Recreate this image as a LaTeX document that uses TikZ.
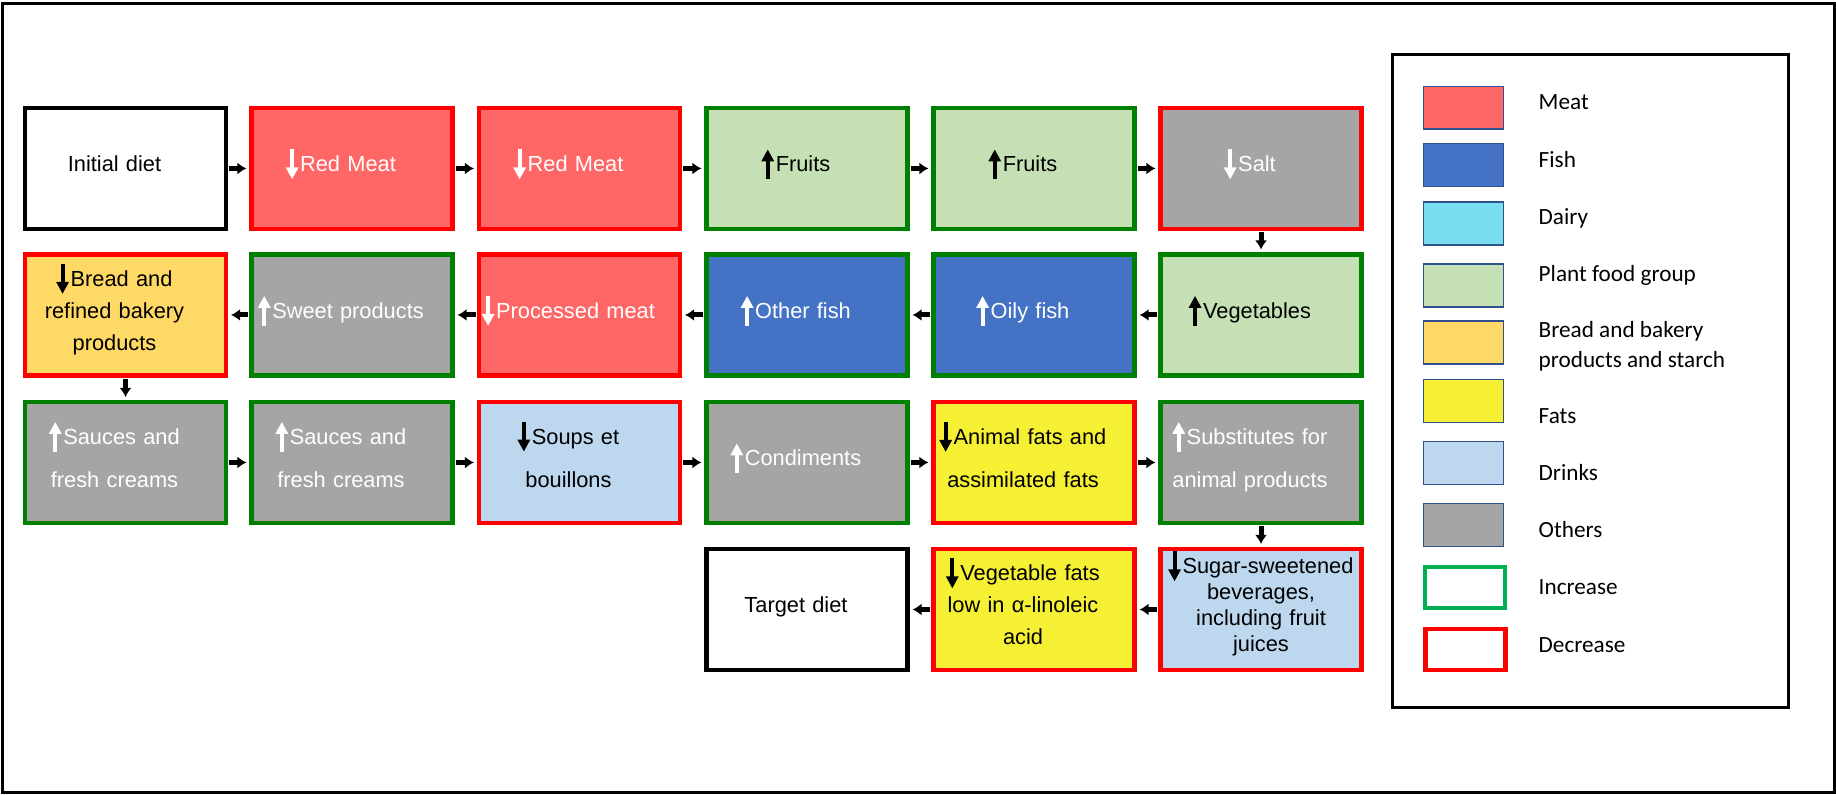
\documentclass[tikz,border=0pt]{standalone}
\usepackage{fontspec}
\setmainfont{Liberation Sans}
\newfontfamily\legendfont{Carlito}
\usetikzlibrary{arrows.meta}

\definecolor{meatcol}{HTML}{FF6666}
\definecolor{fishcol}{HTML}{4472C4}
\definecolor{dairycol}{HTML}{79DDF0}
\definecolor{plantcol}{HTML}{C5E0B4}
\definecolor{breadcol}{HTML}{FFD966}
\definecolor{fatscol}{HTML}{F5F033}
\definecolor{drinkcol}{HTML}{BDD7EE}
\definecolor{othercol}{HTML}{A5A5A5}
\definecolor{incgreen}{HTML}{008000}
\definecolor{decred}{HTML}{FF0000}
\definecolor{leggreen}{HTML}{00B050}
\definecolor{swatchedge}{HTML}{2F528F}

\newcommand{\incarrow}[1]{\smash{\tikz[baseline=0.075cm]\draw[#1, line width=0.04cm, -{Triangle[length=0.12cm,width=0.12cm]}] (0cm,0cm) -- (0cm,0.30cm);}\hspace{0.02cm}}
\newcommand{\decarrow}[1]{\smash{\tikz[baseline=0.075cm]\draw[#1, line width=0.04cm, -{Triangle[length=0.12cm,width=0.12cm]}] (0cm,0.30cm) -- (0cm,0cm);}\hspace{0.02cm}}

\tikzset{
  stepbox/.style={draw, line width=0.045cm, minimum width=2.005cm, minimum height=1.205cm, text width=2.005cm, align=center, inner sep=0pt,
    execute at begin node={\advance\rightskip by 0.22cm}, execute at end node={\rule[-0.09cm]{0pt}{0pt}}},
  incbox/.style={stepbox, draw=incgreen},
  decbox/.style={stepbox, draw=decred},
  endbox/.style={stepbox, draw=black, fill=white},
  widebox/.style={execute at begin node={\advance\rightskip by -0.22cm}},
  flow/.style={line width=0.05cm, -{Latex[length=0.09cm,width=0.12cm]}, shorten <=0.01cm, shorten >=0.03cm},
  swatch/.style={draw=swatchedge, line width=0.015cm, minimum width=0.795cm, minimum height=0.425cm, inner sep=0pt},
  legtext/.style={font=\legendfont\fontsize{6.6}{8.5}\selectfont, inner sep=0pt, align=left}
}

\begin{document}
\begin{tikzpicture}[x=0.01cm, y=-0.01cm, font=\fontsize{6.2}{7.4}\selectfont]
            \useasboundingbox (0,0) rectangle (1836,795);
            \draw[line width=0.03cm] (2.5,3.5) rectangle (1834,793);

            % Row 1
            \node[endbox] (D0) at (125.5,168.5) {Initial diet};
            \node[decbox, fill=meatcol, text=white] (RM1) at (352,168.5) {\decarrow{white}Red Meat};
            \node[decbox, fill=meatcol, text=white] (RM2) at (579.5,168.5) {\decarrow{white}Red Meat};
            \node[incbox, fill=plantcol] (Fr1) at (807,168.5) {\incarrow{black}Fruits};
            \node[incbox, fill=plantcol] (Fr2) at (1034,168.5) {\incarrow{black}Fruits};
            \node[decbox, fill=othercol, text=white] (Sa) at (1261,168.5) {\decarrow{white}Salt};

            % Row 2
            \node[decbox, fill=breadcol] (Br) at (125.5,315) {\decarrow{black}Bread and\\[1.7pt] refined bakery\\[1.7pt] products};
            \node[incbox, fill=othercol, text=white] (SP) at (352,315) {\incarrow{white}Sweet products};
            \node[decbox, fill=meatcol, text=white] (PM) at (579.5,315) {\decarrow{white}Processed meat};
            \node[incbox, fill=fishcol, text=white] (Ot) at (807,315) {\incarrow{white}Other fish};
            \node[incbox, fill=fishcol, text=white] (OF) at (1034,315) {\incarrow{white}Oily fish};
            \node[incbox, fill=plantcol] (Ve) at (1261,315) {\incarrow{black}Vegetables};

            % Row 3
            \node[incbox, fill=othercol, text=white] (Sc1) at (125.5,462.5) {\incarrow{white}Sauces and\\[4.8pt] fresh creams};
            \node[incbox, fill=othercol, text=white] (Sc2) at (352,462.5) {\incarrow{white}Sauces and\\[4.8pt] fresh creams};
            \node[decbox, fill=drinkcol] (So) at (579.5,462.5) {\decarrow{black}Soups et\\[4.8pt] bouillons};
            \node[incbox, fill=othercol, text=white] (Co) at (807,462.5) {\incarrow{white}Condiments};
            \node[decbox, fill=fatscol] (AF) at (1034,462.5) {\decarrow{black}Animal fats and\\[4.8pt] assimilated fats};
            \node[incbox, fill=othercol, text=white] (Su) at (1261,462.5) {\incarrow{white}Substitutes for\\[4.8pt] animal products};

            % Row 4
            \node[endbox] (DT) at (807,609.5) {Target diet};
            \node[decbox, fill=fatscol] (VF) at (1034,609.5) {\decarrow{black}Vegetable fats\\[1.7pt] low in α-linoleic\\[1.7pt] acid};
            \node[decbox, widebox, fill=drinkcol] (SSB) at (1261,609.5) {\decarrow{black}Sugar-sweetened\\ beverages,\\ including fruit\\ juices};

            % Lines
            \draw[flow] (D0) -- (RM1);
            \draw[flow] (RM1) -- (RM2);
            \draw[flow] (RM2) -- (Fr1);
            \draw[flow] (Fr1) -- (Fr2);
            \draw[flow] (Fr2) -- (Sa);
            \draw[flow] (Sa) -- (Ve);
            \draw[flow] (Ve) -- (OF);
            \draw[flow] (OF) -- (Ot);
            \draw[flow] (Ot) -- (PM);
            \draw[flow] (PM) -- (SP);
            \draw[flow] (SP) -- (Br);
            \draw[flow] (Br) -- (Sc1);
            \draw[flow] (Sc1) -- (Sc2);
            \draw[flow] (Sc2) -- (So);
            \draw[flow] (So) -- (Co);
            \draw[flow] (Co) -- (AF);
            \draw[flow] (AF) -- (Su);
            \draw[flow] (Su) -- (SSB);
            \draw[flow] (SSB) -- (VF);
            \draw[flow] (VF) -- (DT);

            % Legend
            \draw[line width=0.03cm] (1392,55) rectangle (1788,708);
            \node[swatch, fill=meatcol] (Kmeat) at (1463.5,108) {};
            \node[swatch, fill=fishcol] (Kfish) at (1463.5,165) {};
            \node[swatch, fill=dairycol] (Kdairy) at (1463.5,223.5) {};
            \node[swatch, fill=plantcol] (Kplant) at (1463.5,285.5) {};
            \node[swatch, fill=breadcol] (Kbread) at (1463.5,342.5) {};
            \node[swatch, fill=fatscol] (Kfats) at (1463.5,401) {};
            \node[swatch, fill=drinkcol] (Kdrink) at (1463.5,463) {};
            \node[swatch, fill=othercol] (Kother) at (1463.5,525) {};
            \node[swatch, draw=leggreen, line width=0.045cm, minimum height=0.405cm] (Kinc) at (1465,587.5) {};
            \node[swatch, draw=decred, line width=0.045cm, minimum height=0.405cm] (Kdec) at (1465.5,649.5) {};

            \node[legtext, anchor=base west] (Tmeat) at (1538,109.5) {Meat};
            \node[legtext, anchor=base west] (Tfish) at (1538,167.5) {Fish};
            \node[legtext, anchor=base west] (Tdairy) at (1538,224.5) {Dairy};
            \node[legtext, anchor=base west] (Tplant) at (1538,281.5) {Plant food group};
            \node[legtext, anchor=west] (Tbread) at (1538,346) {Bread and bakery\\ products and starch};
            \node[legtext, anchor=base west] (Tfats) at (1538,423.5) {Fats};
            \node[legtext, anchor=base west] (Tdrink) at (1538,480.5) {Drinks};
            \node[legtext, anchor=base west] (Tother) at (1538,537.5) {Others};
            \node[legtext, anchor=base west] (Tinc) at (1538,594.5) {Increase};
            \node[legtext, anchor=base west] (Tdec) at (1538,652.5) {Decrease};
        \end{tikzpicture}
\end{document}
